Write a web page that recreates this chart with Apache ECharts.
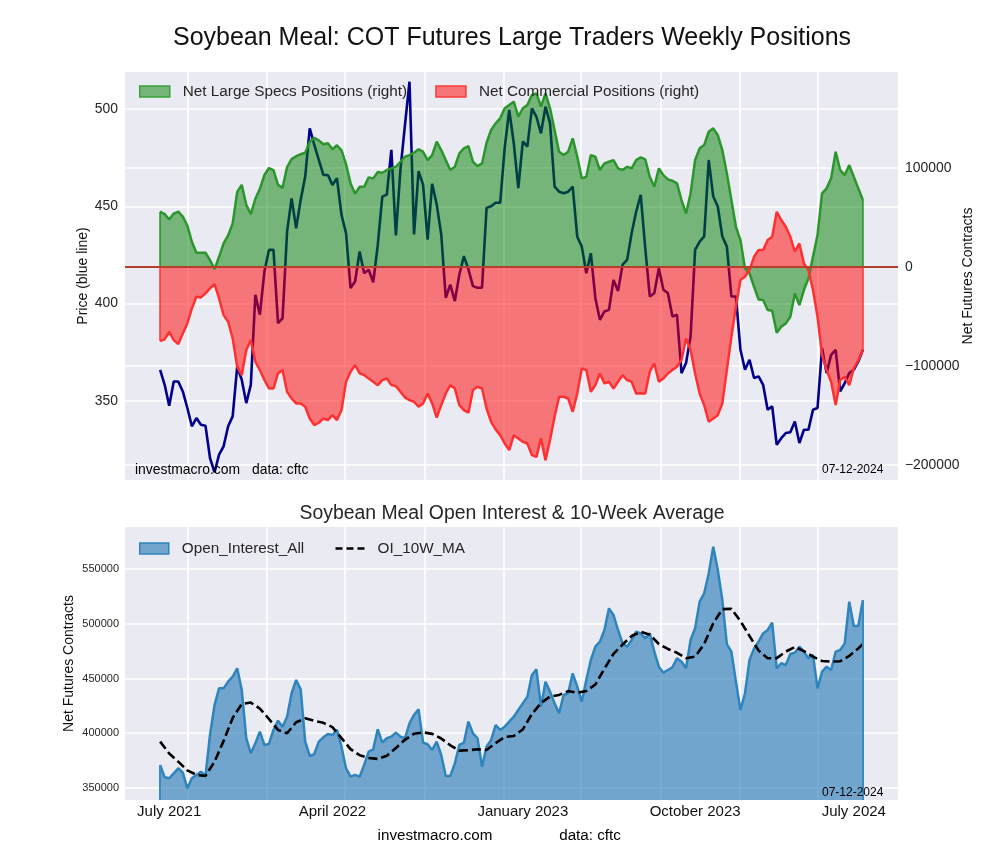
<!DOCTYPE html>
<html><head><meta charset="utf-8">
<script src="https://cdn.jsdelivr.net/npm/echarts@6/dist/echarts.min.js"></script>
<style>html,body{margin:0;padding:0;background:#fff}#c{width:1000px;height:860px}</style>
</head><body><div id="c"></div>
<script>
// first weekly report date (year, month, day)
const START = [2021, 7, 20];

// Soybean meal price (left axis, top chart)
const price = [
 366,358.3,347.5,360,360,354.9,346.4,337,341.2,337.8,
 337.3,320.7,313.3,322.4,326.7,337,342.1,367.7,360.9,348.9,
 358.3,404.5,394.3,416.5,427.6,427.6,390,392.5,437,454.1,
 438.7,453.3,465.3,490.1,481.5,473.8,466.1,466.1,461,464.4,
 445.6,436.2,408,411.4,426.8,415.6,417.4,411,430,455,
 456,479,435,468.7,491.7,514,435.6,468.1,461,432.9,
 461.6,451,435.6,403,409.8,401.3,415,424.4,417.6,409,
 408.2,408.2,449.2,450,451.8,451.8,480,499.5,482.4,459.3,
 483.3,480.7,500.3,496,487.5,501.2,492.6,460.1,457.5,456.7,
 457.5,460.1,434.4,429.3,415.6,425.9,402.8,391.7,396,396.8,
 412.2,406.5,420,422.5,436.2,447.3,455.9,428.5,403.7,405.4,
 418.2,407.1,405.4,393.4,394.3,364.3,369.5,383.1,427.6,431.9,
 434.5,473.8,455,449.9,434.5,429.3,403.7,403.7,376.3,366,
 371.2,361.8,362.6,358.3,345.5,347.2,327.5,330.9,333.5,333.9,
 339.5,328.4,335.2,335.2,345.5,346.4,377.2,364.3,373.7,376.3,
 354.9,359.2,364.3,366,370.3,376.3
];

// Net large speculator positions (right axis)
const specs = [
 55900,53500,48000,54000,56000,51000,42000,25600,14500,14500,
 14500,7000,-2000,10400,24000,32000,44000,76000,83000,63000,
 53500,69000,79000,93000,100000,98000,83000,80000,101000,109000,
 112000,114000,115500,126600,130600,128000,124000,125000,119000,123000,
 118000,104000,84500,74000,81000,81000,90600,89600,96000,95300,
 98000,99700,101300,106400,111400,113100,115500,118900,116500,108000,
 113100,126600,118200,108000,98000,101300,114800,119900,122200,106400,
 102000,104700,125600,138400,145100,150200,160300,163600,167000,151900,
 160300,163600,173700,175400,162000,175400,160300,138400,116500,113100,
 116500,130000,111400,89600,91200,113100,111400,98000,104700,106400,
 108000,99700,98000,101300,99700,108100,110800,108800,91200,81100,
 99700,92900,88600,87200,84500,67700,54200,74400,108100,119900,
 123200,136700,140100,133300,118200,94600,67700,40700,27300,-1300,
 -6400,-19900,-32700,-33300,-43400,-44100,-66300,-60300,-56900,-50200,
 -26600,-38400,-23200,-11400,10400,32300,74400,79500,89600,116500,
 98000,92900,103000,91200,79500,67700
];

// Net commercial positions (right axis)
const comm = [
 -74700,-73000,-65300,-73700,-77800,-67000,-56900,-41800,-30000,-30600,
 -26600,-21500,-17200,-31600,-48500,-55200,-72000,-100700,-109000,-83800,
 -73700,-95600,-104000,-114000,-122600,-122600,-107400,-104000,-126000,-132700,
 -137700,-137700,-141000,-152900,-159600,-157200,-152900,-154500,-149500,-154500,
 -144400,-115800,-105700,-99000,-107400,-109000,-112500,-115800,-119200,-114100,
 -112500,-119200,-120200,-125900,-131600,-134300,-136000,-141000,-137700,-127600,
 -137700,-151900,-139400,-127600,-119200,-122600,-139400,-144400,-147100,-124200,
 -120900,-122600,-142800,-156200,-163900,-169700,-178100,-184800,-169700,-173000,
 -176400,-178100,-189900,-191600,-173000,-195000,-174700,-151200,-131000,-131000,
 -132700,-146100,-127600,-102400,-104000,-125900,-119200,-107400,-117500,-115800,
 -122600,-115800,-109100,-114100,-115800,-127600,-127600,-127600,-105700,-97300,
 -115800,-112500,-107400,-104000,-100700,-93900,-72100,-83800,-107400,-127600,
 -139400,-156200,-152900,-149500,-137700,-104000,-70400,-40100,-13100,-9800,
 -3000,10400,17200,17200,27300,30600,55900,47500,40700,30600,
 15500,23900,3700,-3000,-23200,-50200,-88900,-104000,-115800,-139400,
 -114100,-110800,-119200,-102400,-93900,-83800
];

// Open interest (bottom chart)
const openInterest = [
 371000,359700,358800,363400,368000,364000,349700,358800,361900,364900,
 361000,398400,425800,441000,441000,447100,451700,459300,439500,395400,
 381700,390800,401400,389300,390200,403000,411500,406000,415100,436500,
 448600,440100,392300,379200,381000,392300,396300,399300,398400,403000,
 387700,368000,360300,361900,360300,371000,383200,385300,403600,391400,
 395400,396900,400500,396900,395400,409100,416700,421800,391400,389900,
 384700,392300,380100,361000,361000,372500,389300,391400,410600,399900,
 395400,369500,387700,393800,407500,403000,406000,410600,415100,421200,
 427300,433400,453200,458400,424300,447100,438000,427300,418200,434900,
 436500,454700,442500,428800,448600,466900,479100,483600,494300,514100,
 508000,494300,482100,479100,485200,492800,491200,486700,491200,474500,
 460800,455300,457800,460200,468400,465400,459300,485200,495900,520200,
 527800,546000,570400,549100,521700,481500,474500,447100,421200,436500,
 466900,477500,483600,491200,494300,501000,459300,463900,462300,472400,
 473600,479100,474500,468400,471500,441000,456200,460800,457800,474500,
 476000,482100,520200,497900,497900,521700
];

// 10-week average of open interest, read at these week numbers
const maWeekIdx = [0,2,4,6,8,10,12,14,16,18,20,22,24,26,28,30,32,34,36,38,40,42,44,46,48,50,
 52,54,56,58,60,62,64,66,68,70,72,74,76,78,80,82,84,86,88,90,92,94,96,98,100,102,104,106,108,110,
 112,114,116,118,120,122,124,126,128,130,132,134,136,138,140,142,144,146,148,150,152,154,155];
const maValues = [392300,381500,374000,366000,362000,361000,374000,393000,414000,426700,428000,422500,
 413000,403000,400000,410000,413600,411300,409500,405600,395500,385500,380000,377300,376500,379500,
 386500,394000,399500,400800,399400,395200,389000,384100,384500,385300,384700,391000,396500,397500,
 403500,417500,427500,433500,435000,438500,437000,438500,444500,459000,472500,481000,488800,492600,
 490000,481500,477000,473500,468500,470000,481500,500400,513400,513600,502500,488800,475500,468500,
 468600,474500,478800,475000,470000,466000,465400,465800,470600,477500,481500];

// vertical grid dates, bottom axis labels
const gridDates = ['2021-09-01','2022-01-01','2022-05-01','2022-09-01','2023-01-01','2023-05-01','2023-09-01','2024-01-01','2024-05-01'];
const labelWeekIdx = [2, 38, 80, 118, 153];
const labelText = ['July 2021','April 2022','January 2023','October 2023','July 2024'];
const priceTicks = [350, 400, 450, 500];
const netTicks = [-200000, -100000, 0, 100000];
const oiTicks = [350000, 400000, 450000, 500000, 550000];

const FONT = '"Liberation Sans", Arial, sans-serif';
const OI_MIN = 339000;
function dateOf(i){ return new Date(START[0], START[1]-1, START[2] + 7*i).getTime(); }
function parseD(s){ const p = s.split('-').map(Number); return new Date(p[0], p[1]-1, p[2]).getTime(); }
const weeks = price.map((_, i) => dateOf(i));
const last = weeks.length - 1;
const pad = (weeks[last] - weeks[0]) * 0.05;
const xMin = weeks[0] - pad, xMax = weeks[last] + pad;
const gridTicks = gridDates.map(parseD);
const labelTicks = labelWeekIdx.map(dateOf);
const pair = arr => arr.map((v, i) => [weeks[i], v]);
const fmtNeg = v => (v < 0 ? '\u2212' : '') + Math.abs(v);
// closing edges of a filled region (first and last week, from base to value)
const edges = (arr, base, color) => ({
  symbol: 'none', silent: true, label: {show: false},
  lineStyle: {color: color, width: 2, type: 'solid'},
  data: [
    [{coord: [weeks[0], base]}, {coord: [weeks[0], arr[0]]}],
    [{coord: [weeks[last], base]}, {coord: [weeks[last], arr[last]]}]
  ]
});

const splitWhite = {show: true, lineStyle: {color: '#ffffff', width: 1.6}};
const tickColor = '#262626';
const nameStyle = {fontSize: 14, color: '#111', fontFamily: FONT};

const chart = echarts.init(document.getElementById('c'), null, {renderer: 'canvas'});
chart.setOption({
  animation: false,
  backgroundColor: '#ffffff',
  textStyle: {fontFamily: FONT},
  grid: [
    {left: 125, right: 102, top: 72, height: 408, show: true, backgroundColor: '#eaeaf2', borderWidth: 0},
    {left: 125, right: 102, top: 527, height: 273, show: true, backgroundColor: '#eaeaf2', borderWidth: 0}
  ],
  xAxis: [
    {type: 'value', gridIndex: 0, min: xMin, max: xMax, scale: true,
     axisLine: {show: false}, axisTick: {show: false, customValues: gridTicks},
     axisLabel: {show: false, customValues: gridTicks}, splitLine: splitWhite},
    {type: 'value', gridIndex: 1, min: xMin, max: xMax, scale: true,
     axisLine: {show: false}, axisTick: {show: false, customValues: gridTicks},
     axisLabel: {show: true, customValues: labelTicks, margin: 4, fontSize: 15, color: '#111', fontFamily: FONT,
       formatter: v => { const k = labelTicks.indexOf(v); return k >= 0 ? labelText[k] : ''; }},
     splitLine: splitWhite}
  ],
  yAxis: [
    {type: 'value', gridIndex: 0, position: 'left', min: 309.4, max: 519,
     name: 'Price (blue line)', nameLocation: 'middle', nameGap: 35, nameRotate: 90, nameMoveOverlap: false,
     nameTextStyle: nameStyle,
     axisLine: {show: false}, axisTick: {show: false, customValues: priceTicks},
     axisLabel: {customValues: priceTicks, fontSize: 13.9, color: tickColor, margin: 7, fontFamily: FONT},
     splitLine: splitWhite},
    {type: 'value', gridIndex: 0, position: 'right', min: -215000, max: 197000,
     name: 'Net Futures Contracts', nameLocation: 'middle', nameGap: 63, nameRotate: 90, nameMoveOverlap: false,
     nameTextStyle: nameStyle,
     axisLine: {show: false}, axisTick: {show: false, customValues: netTicks},
     axisLabel: {customValues: netTicks, fontSize: 13.9, color: tickColor, margin: 7, fontFamily: FONT, formatter: fmtNeg},
     splitLine: splitWhite},
    {type: 'value', gridIndex: 1, position: 'left', min: OI_MIN, max: 588400,
     name: 'Net Futures Contracts', nameLocation: 'middle', nameGap: 49, nameRotate: 90, nameMoveOverlap: false,
     nameTextStyle: nameStyle,
     axisLine: {show: false}, axisTick: {show: false, customValues: oiTicks},
     axisLabel: {customValues: oiTicks, fontSize: 11, color: tickColor, margin: 6, fontFamily: FONT, formatter: v => String(v)},
     splitLine: splitWhite}
  ],
  legend: [
    {left: 134, top: 79, itemWidth: 30, itemHeight: 11, itemGap: 28, icon: 'rect',
     textStyle: {fontSize: 15.3, color: '#262626', fontFamily: FONT, padding: [0, 0, 0, 8]},
     data: [
       {name: 'Net Large Specs Positions (right)', icon: 'rect', itemStyle: {color: 'rgba(0,128,0,0.5)', borderColor: '#3aa33a', borderWidth: 1.5}},
       {name: 'Net Commercial Positions (right)', icon: 'rect', itemStyle: {color: 'rgba(255,0,0,0.5)', borderColor: '#ff3b3b', borderWidth: 1.5}}
     ]},
    {left: 134, top: 536, itemWidth: 29, itemHeight: 11, itemGap: 30,
     textStyle: {fontSize: 15.3, color: '#262626', fontFamily: FONT, padding: [0, 0, 0, 8]},
     data: [
       {name: 'Open_Interest_All', icon: 'rect', itemStyle: {color: 'rgba(31,119,180,0.6)', borderColor: '#2e84bd', borderWidth: 1.5}},
       {name: 'OI_10W_MA', itemStyle: {opacity: 0}, lineStyle: {color: '#000', width: 2.6, type: [7, 4]}}
     ]}
  ],
  series: [
    {name: 'Price', type: 'line', xAxisIndex: 0, yAxisIndex: 0, data: pair(price), showSymbol: false, symbol: 'none',
     lineStyle: {color: '#00008b', width: 2.6}, itemStyle: {color: '#00008b'}, z: 1},
    {name: 'Net Large Specs Positions (right)', type: 'line', xAxisIndex: 0, yAxisIndex: 1, data: pair(specs), symbol: 'none',
     lineStyle: {color: '#2b962b', width: 2.5}, itemStyle: {color: '#2b962b'},
     areaStyle: {color: 'rgba(0,128,0,0.5)', opacity: 1, origin: 0}, z: 3,
     markLine: edges(specs, 0, 'rgba(0,128,0,0.6)')},
    {name: 'Net Commercial Positions (right)', type: 'line', xAxisIndex: 0, yAxisIndex: 1, data: pair(comm), symbol: 'none',
     lineStyle: {color: '#ff3030', width: 2.5}, itemStyle: {color: '#ff3030'},
     areaStyle: {color: 'rgba(255,0,0,0.5)', opacity: 1, origin: 0}, z: 3,
     markLine: {symbol: 'none', silent: true, label: {show: false}, lineStyle: {color: '#b5402a', width: 2, type: 'solid'},
       data: [{yAxis: 0},
         [{coord: [weeks[0], 0], lineStyle: {color: 'rgba(255,40,40,0.7)'}}, {coord: [weeks[0], comm[0]]}],
         [{coord: [weeks[last], 0], lineStyle: {color: 'rgba(255,40,40,0.7)'}}, {coord: [weeks[last], comm[last]]}]]}},
    {name: 'Open_Interest_All', type: 'line', xAxisIndex: 1, yAxisIndex: 2, data: pair(openInterest), symbol: 'none',
     lineStyle: {color: '#2e84bd', width: 2.5}, itemStyle: {color: '#2e84bd'},
     areaStyle: {color: 'rgba(31,119,180,0.6)', opacity: 1, origin: 'start'}, z: 2,
     markLine: edges(openInterest, OI_MIN, '#3a8cc0')},
    {name: 'OI_10W_MA', type: 'line', xAxisIndex: 1, yAxisIndex: 2, data: maWeekIdx.map((w, k) => [dateOf(w), maValues[k]]),
     symbol: 'none', lineStyle: {color: '#000000', width: 2.6, type: [9, 4]}, itemStyle: {color: '#000000'}, z: 4}
  ],
  graphic: [
    {type: 'text', x: 512, y: 38, style: {text: 'Soybean Meal: COT Futures Large Traders Weekly Positions', font: '25px ' + FONT, fill: '#111', align: 'center', verticalAlign: 'middle'}},
    {type: 'text', x: 512, y: 514, style: {text: 'Soybean Meal Open Interest & 10-Week Average', font: '19.4px ' + FONT, fill: '#262626', align: 'center', verticalAlign: 'middle'}},
    {type: 'text', x: 135, y: 470, z: 10, style: {text: 'investmacro.com', font: '13.9px ' + FONT, fill: '#000', align: 'left', verticalAlign: 'middle'}},
    {type: 'text', x: 252, y: 470, z: 10, style: {text: 'data: cftc', font: '13.9px ' + FONT, fill: '#000', align: 'left', verticalAlign: 'middle'}},
    {type: 'text', x: 822, y: 470, z: 10, style: {text: '07-12-2024', font: '12px ' + FONT, fill: '#000', align: 'left', verticalAlign: 'middle'}},
    {type: 'text', x: 822, y: 793, z: 10, style: {text: '07-12-2024', font: '12px ' + FONT, fill: '#000', align: 'left', verticalAlign: 'middle'}},
    {type: 'text', x: 435, y: 836, style: {text: 'investmacro.com', font: '15.2px ' + FONT, fill: '#000', align: 'center', verticalAlign: 'middle'}},
    {type: 'text', x: 590, y: 836, style: {text: 'data: cftc', font: '15.2px ' + FONT, fill: '#000', align: 'center', verticalAlign: 'middle'}}
  ]
});
</script></body></html>
